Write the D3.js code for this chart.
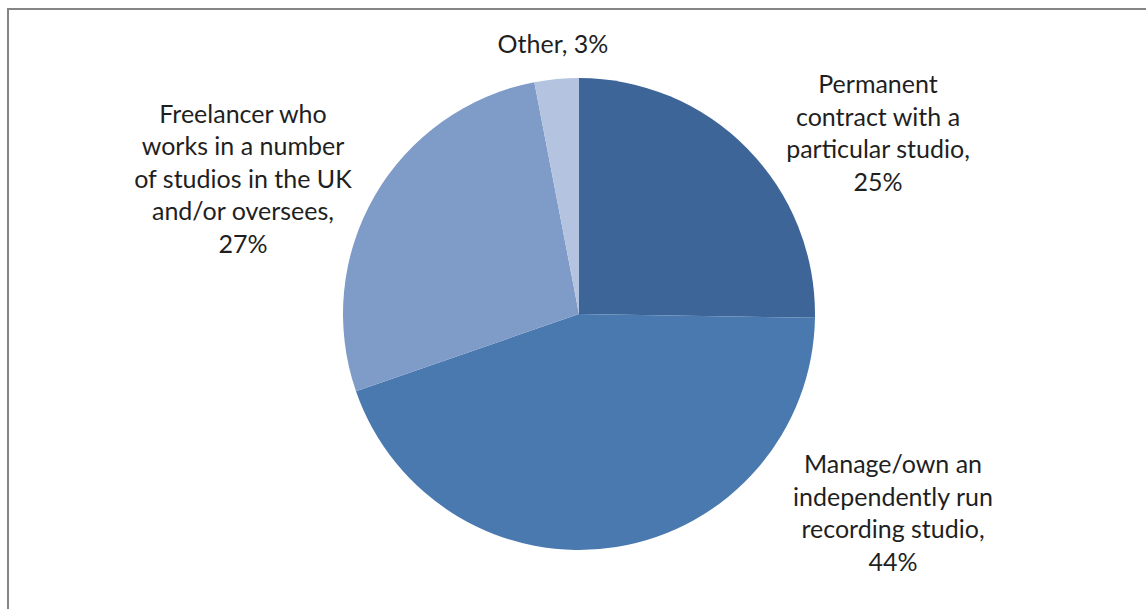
<!DOCTYPE html>
<html>
<head>
<meta charset="utf-8">
<script src="https://cdn.jsdelivr.net/npm/d3@7"></script>
<style>
  html, body { margin: 0; padding: 0; background: #fff; }
  svg { display: block; }
  text { font-family: Lato, "Open Sans", sans-serif; font-size: 25px; fill: #1f1f1f; }
</style>
</head>
<body>
<svg id="chart" width="1146" height="609"></svg>
<script>
// Employment type of respondents (percent)
const categories = [
  "Permanent contract with a particular studio",
  "Manage/own an independently run recording studio",
  "Freelancer who works in a number of studios in the UK and/or oversees",
  "Other"
];
const values = [25, 44, 27, 3];
const colors = ["#3D6597", "#4A79B0", "#7F9BC7", "#B4C4E0"];

// Label text split across lines, with the centre of each label block
const labelLines = [
  ["Permanent", "contract with a", "particular studio,", "25%"],
  ["Manage/own an", "independently run", "recording studio,", "44%"],
  ["Freelancer who", "works in a number", "of studios in the UK", "and/or oversees,", "27%"],
  ["Other, 3%"]
];
const labelAnchors = [[878, 133], [893, 513], [243, 179], [553, 44]];

const svg = d3.select("#chart");

// chart frame
svg.append("rect")
  .attr("x", 8).attr("y", 9)
  .attr("width", 1150).attr("height", 620)
  .attr("fill", "none")
  .attr("stroke", "#858585")
  .attr("stroke-width", 2);

const cx = 579, cy = 314, radius = 236;

const pie = d3.pie().value(d => d).sort(null);
const arc = d3.arc().innerRadius(0).outerRadius(radius);

const g = svg.append("g").attr("transform", `translate(${cx},${cy})`);
g.selectAll("path")
  .data(pie(values))
  .join("path")
  .attr("d", arc)
  .attr("fill", (d, i) => colors[i]);

// data labels
const lineH = 32.5;
labelLines.forEach((lines, i) => {
  const [lx, ly] = labelAnchors[i];
  const t = svg.append("text")
    .attr("text-anchor", "middle");
  lines.forEach((s, j) => {
    t.append("tspan")
      .attr("x", lx)
      .attr("y", ly + (j - (lines.length - 1) / 2) * lineH)
      .attr("dy", "0.35em")
      .text(s);
  });
});
</script>
</body>
</html>
